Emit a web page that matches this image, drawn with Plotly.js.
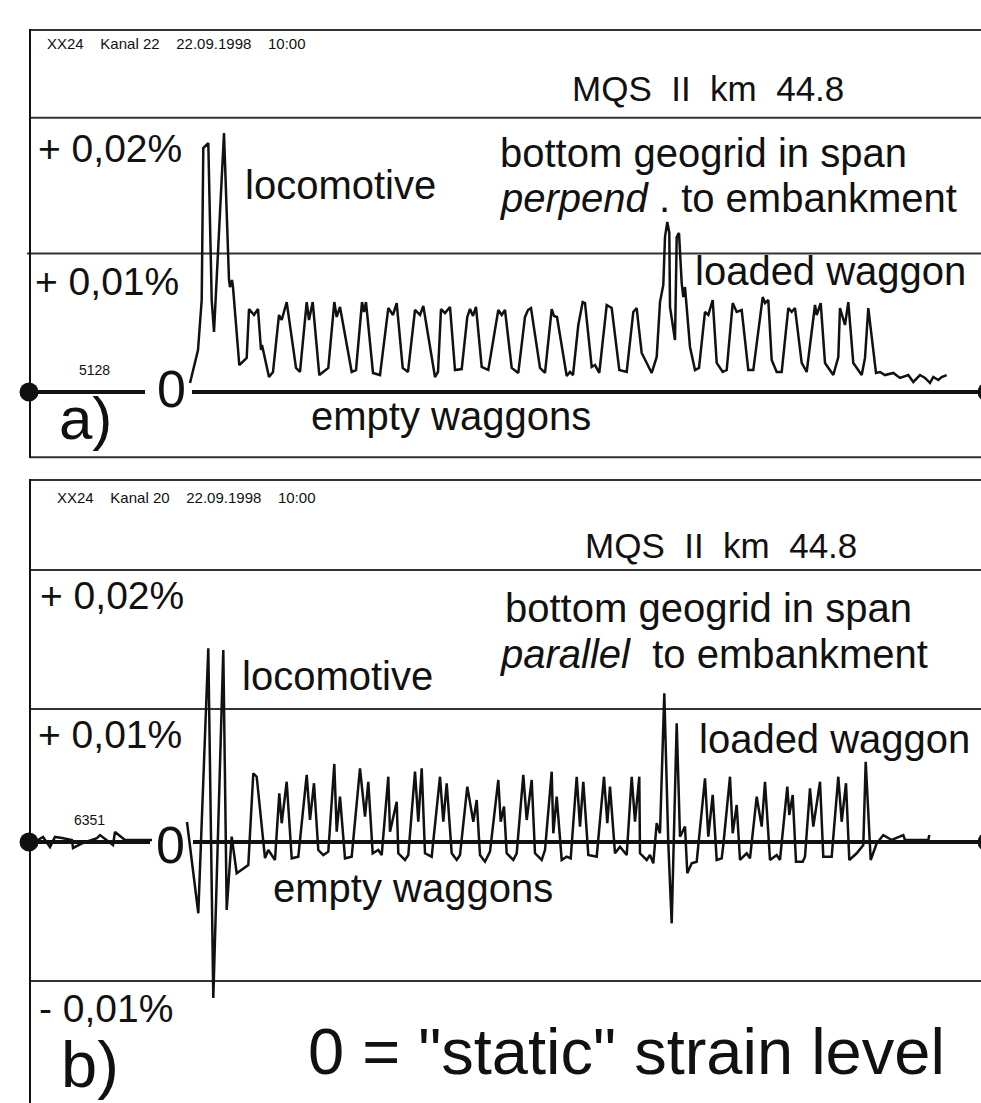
<!DOCTYPE html>
<html>
<head>
<meta charset="utf-8">
<script src="https://cdn.plot.ly/plotly-3.0.1.min.js"></script>
<style>html,body{margin:0;padding:0;background:#fff;}#chart{width:981px;height:1103px;}</style>
</head>
<body>
<div id="chart"></div>
<script>
// ---------------- DATA ----------------
// time position (arbitrary time units, common to both records)
// strain in micro-strain (1e-4 %), 100 = 0,01 %

// a) Kanal 22 – bottom geogrid perpendicular to embankment
const timeA = [
  190,198,201.7,203.3,208.3,211.7,214,224,229,230,232,233,239.3,246.7,
  249,254,258,261,262,269,273,
  279,281.7,286.7,296,300,
  306.7,309,312.7,319.3,328.3,
  334.3,336.7,340,351.7,356,
  362,364,366,373,380,
  388.3,393,396.7,402.7,408,
  415,420,423.3,435,438,
  441,445,450,455,461.7,
  467.3,470,473,476,481.7,488.3,
  498.3,501.7,505,511.7,518.3,
  525,528,531,540,545,
  551.7,554,557,566.7,570,573,
  578.3,582.7,585,591.7,595,599.3,
  606.7,611.7,619.3,626.7,
  633.3,636.7,638.3,641.7,651.7,
  656.7,660,663.3,665,667.3,669.3,670,675,676.7,679,681.7,683.3,685,690,695,699,
  705,708.3,712.7,716.7,722.7,726.7,
  732.7,736.7,741.7,748.3,753.3,
  762.7,765,768.3,771.7,776.7,781.7,
  788.3,791.7,795,801.7,806.7,
  815,816.7,820.7,825,833.3,
  838.3,840,845,848.3,853.3,861.7,
  865,868.3,876,
  880,885,893.3,900,908.3,913.3,920,925,930,933.3,938.3,941.7,946.7
];
const strainA = [
  6.5,30.2,66.2,175.5,179.1,66.2,43.2,186.3,80.6,75.5,80.6,75.5,19.4,24.5,
  59.7,55.4,59.7,30.2,33.8,10.8,14.4,
  55.4,51.8,64.7,17.3,14.4,
  64.7,51.8,64.7,12.2,17.3,
  64.7,54,61.2,14.4,15.8,
  64.7,57.6,64.7,13.7,12.2,
  60.4,55.4,64,17.3,14.4,
  59,55.4,61.9,10.8,14.4,
  59.7,56.8,61.2,15.8,16.5,
  54,59.7,54.7,61.2,18,15.8,
  59,55.4,59,17.3,13.7,
  54,59,60.4,17.3,13.7,
  59.7,54.7,54,11.5,14.4,12.2,
  48.2,64.7,64,18,19.4,13.7,
  62.6,60.4,15.8,14.4,
  57.6,60.4,49.6,28.1,13.7,
  25.2,64.7,77,111.5,122.3,114.4,61.2,37.4,111.5,114.4,78.4,68.3,75.5,32.4,15.8,17.3,
  57.6,55.4,66.2,20.9,14.4,15.8,
  64,57.6,59,15.8,15.8,
  68.3,64,66.2,23,14.4,14.4,
  60.4,57.6,60.4,20.9,14.4,
  62.6,55.4,64,20.9,12.2,
  25.2,60.4,48.2,64.7,20.9,12.2,
  24.5,60.4,13.7,
  14.4,12.2,13.7,10.1,12.2,7.2,12.2,10.1,6.5,10.8,8.6,10.8,12.2
];

// b) Kanal 20 – bottom geogrid parallel to embankment
const timeB0 = [38,43,50,55,62,72,73,83,97,100,113,115,125,133,147,152];
const strainB0 = [1.5,3.7,-3.7,3.7,2.9,1.5,-4.4,-0.7,2.9,5.1,-2.2,7.4,1.5,1.5,1.5,1.5];
const timeB = [
  187,198.3,208.3,213.3,223.3,226.7,231.7,236.7,248.3,
  253.3,256.7,261.7,265,268.3,275,
  279.3,281.7,286.7,291.7,298.3,
  306.7,310,314,318.3,323.3,328.3,
  334.3,336.7,340,345,351.7,
  360,365,368.3,372.7,378.3,381.7,
  388.3,390,396.7,398.3,405,408.3,
  415,418.3,421.7,425,431.7,
  440,443.3,446.7,451.7,456.7,460,
  467.3,473.3,476.7,480,485,490,
  498.3,500.7,504,506.7,513.3,516.7,
  523.3,526.7,531.7,535,541.7,545,
  551.7,553.3,556.7,561.7,566.7,570.7,
  576.7,580,583.3,588.3,596.7,
  604,607.3,610,615,620,626.7,
  631.7,635,639.3,640,646.7,650,653.3,
  656.7,660,664.3,668.3,671.7,676.7,680,685,687.3,691.7,696.7,
  705,708.3,712.7,716.7,721.7,723.3,
  730,732.7,736.7,740,746.7,750,
  756.7,761.7,765,770,776.7,780,
  787.3,789.3,792.7,796,802.7,805,
  810,813.3,820,823.3,831.7,
  838.3,841.7,846,849.3,856.7,863.3,
  865.7,870.7,876.7,883.3,891.7,903.3,905,928.3,929.3
];
const strainB = [
  14.7,-52.4,142.4,-114.7,141.2,-50,3.9,-23,-16.9,
  50.5,48,11.3,-11.8,-5.9,-13.2,
  35.8,13.8,44.3,-12,-10.8,
  49.3,16.2,43.2,-5.9,-9.6,-7.1,
  57.4,7.6,33.3,-12,-10.8,
  54.2,18.6,44.3,-8.3,-5.9,-9.6,
  48,7.6,29.6,-8.3,-13.2,-9.6,
  51.7,14.9,54.2,-8.3,-10.8,
  48,14.9,43.2,-8.3,-13.2,-9.6,
  40.7,14.9,30.9,-9.6,-14.5,-7.1,
  45.6,14.9,26,-8.3,-13.2,-8.3,
  49.3,16.2,45.6,-8.3,-13.2,-5.9,
  51.7,6.4,33.3,-13.2,-10.8,-12,
  48,11.3,44.3,-9.6,-10.8,
  48,13.8,40.7,-8.3,-3.5,-9.6,
  48,14.9,48,-8.3,-13.2,-9.6,-15.7,
  13.8,6.4,109.3,-1,-59.8,87.3,3.9,11.3,-23,-15.7,-14.5,
  46.8,3.9,34.6,-13.2,-12,-2.2,
  48,6.4,27.2,-13.2,-8.3,-12,
  33.3,11.3,44.3,-13.2,-9.6,-13.2,
  40.7,19.9,34.6,-14.5,-14.5,-10.8,
  39.5,11.3,44.3,-10.8,-10.8,
  48,14.9,43.2,-13.2,-8.3,-2.2,
  59,-13.2,-1,5.1,1.5,5.1,1.5,1.5,5.1
];

// texts
const SP4 = "\u00a0\u00a0\u00a0\u00a0";
const headerA = "XX24" + SP4 + "Kanal 22" + SP4 + "22.09.1998" + SP4 + "10:00";
const headerB = "XX24" + SP4 + "Kanal 20" + SP4 + "22.09.1998" + SP4 + "10:00";
const siteLabel = "MQS\u00a0\u00a0II\u00a0\u00a0km\u00a0\u00a044.8";
const levelLabels = ["+ 0,02%", "+ 0,01%", "- 0,01%"];
const countA = "5128", countB = "6351";

// ---------------- LAYOUT ----------------
const W = 981, H = 1103;
const X = px => px / W;
const Y = py => 1 - py / H;
const PA = {zero: 392, scale: 1.39, top: 30, bottom: 457.3};
const PB = {zero: 842, scale: 1.36, top: 480, bottom: 1103};
const FONT = "Liberation Sans, Arial, Helvetica, sans-serif";
const INK = "#111";
const FRAME = "#333";

const traces = [
  {x: timeA, y: strainA, xaxis: 'x', yaxis: 'y', mode: 'lines', line: {color: INK, width: 2.5}, hoverinfo: 'skip'},
  {x: timeB0, y: strainB0, xaxis: 'x', yaxis: 'y2', mode: 'lines', line: {color: INK, width: 2.5}, hoverinfo: 'skip'},
  {x: timeB, y: strainB, xaxis: 'x', yaxis: 'y2', mode: 'lines', line: {color: INK, width: 2.5}, hoverinfo: 'skip'}
];

function hline(py, x0, x1, w) {
  return {type: 'line', xref: 'paper', yref: 'paper', x0: X(x0), x1: X(x1), y0: Y(py), y1: Y(py),
          line: {color: FRAME, width: w || 2}, layer: 'below'};
}
function vline(px, y0, y1) {
  return {type: 'line', xref: 'paper', yref: 'paper', x0: X(px), x1: X(px), y0: Y(y0), y1: Y(y1),
          line: {color: INK, width: 2}, layer: 'below'};
}
function zero(yref, x0, x1) {
  return {type: 'line', xref: 'paper', yref: yref, x0: X(x0), x1: X(x1), y0: 0, y1: 0,
          line: {color: INK, width: 4}, layer: 'below'};
}
function dot(yref, cx) {
  const r = 9.5;
  const s = (yref === 'y' ? PA.scale : PB.scale);
  return {type: 'circle', xref: 'paper', yref: yref, x0: X(cx - r), x1: X(cx + r),
          y0: -r / s, y1: r / s, fillcolor: INK, line: {color: INK, width: 0}};
}

const shapes = [
  // panel a frame
  hline(30, 30, 981), hline(117.7, 30, 981), hline(253.5, 27, 981), hline(457.3, 30, 981),
  vline(30, 29, 458),
  // panel b frame
  hline(480, 30, 981), hline(570, 30, 981), hline(709, 30, 981), hline(981, 30, 981),
  vline(30, 479, 1103),
  // zero lines
  zero('y', 30, 145), zero('y', 192, 981),
  zero('y2', 30, 150), zero('y2', 193, 981),
  dot('y', 29), dot('y', 987), dot('y2', 29), dot('y2', 987)
];

function txt(text, px, pyMid, size, anchor) {
  return {text: text, xref: 'paper', yref: 'paper', x: X(px), y: Y(pyMid), xanchor: anchor || 'left',
          yanchor: 'middle', showarrow: false, font: {family: FONT, size: size, color: INK}, borderpad: 0};
}

const annotations = [
  // panel a
  txt(headerA, 46, 43, 15),
  txt(siteLabel, 571, 89, 35),
  txt(levelLabels[0], 37, 148.5, 39),
  txt(levelLabels[1], 34, 281, 39),
  txt("locomotive", 244, 184.5, 40),
  txt("bottom geogrid in span", 499, 152.8, 40),
  txt("<i>perpend</i> . to embankment", 499, 197.8, 40),
  txt("loaded waggon", 694, 271, 40),
  txt("empty waggons", 310, 416, 40),
  txt(countA, 78, 370, 14),
  txt("0", 171.5, 388.5, 52, 'center'),
  txt("a)", 58, 419, 60),
  // panel b
  txt(headerB, 56, 498, 15),
  txt(siteLabel, 584, 545, 35),
  txt(levelLabels[0], 39, 595, 39),
  txt(levelLabels[1], 37, 735, 39),
  txt("locomotive", 241, 676, 40),
  txt("bottom geogrid in span", 504, 607.8, 40),
  txt("<i>parallel</i>\u00a0 to embankment", 499, 654.4, 40),
  txt("loaded waggon", 698, 739.4, 40),
  txt("empty waggons", 272, 887.8, 40),
  txt(countB, 73, 820, 14),
  txt("0", 170, 844.5, 52, 'center'),
  txt(levelLabels[2], 38, 1008, 39),
  txt("b)", 60, 1064, 65),
  txt("0 = \"static\" strain level", 307, 1051, 65)
];

const layout = {
  width: W, height: H,
  margin: {l: 0, r: 0, t: 0, b: 0, pad: 0},
  paper_bgcolor: '#fff', plot_bgcolor: 'rgba(0,0,0,0)',
  showlegend: false,
  xaxis: {domain: [0, 1], range: [0, W], visible: false, fixedrange: true},
  yaxis: {domain: [Y(PA.bottom), Y(PA.top)],
          range: [(PA.zero - PA.bottom) / PA.scale, (PA.zero - PA.top) / PA.scale],
          visible: false, fixedrange: true},
  yaxis2: {domain: [0, Y(PB.top)],
           range: [(PB.zero - PB.bottom) / PB.scale, (PB.zero - PB.top) / PB.scale],
           visible: false, fixedrange: true},
  shapes: shapes,
  annotations: annotations
};

Plotly.newPlot('chart', traces, layout, {staticPlot: true, displayModeBar: false});
</script>
</body>
</html>
